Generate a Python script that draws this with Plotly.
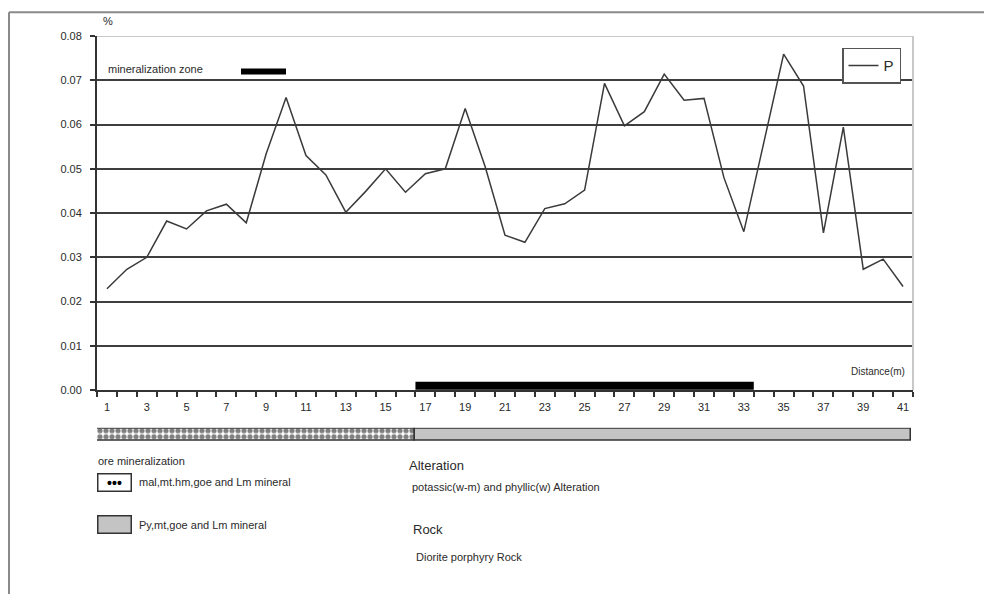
import plotly.graph_objects as go

# Phosphorus assay along the trench profile
distance_m = list(range(1, 42))
p_percent = [
    0.0229, 0.0273, 0.0300, 0.0382, 0.0364, 0.0405, 0.0420, 0.0378, 0.0534, 0.0661,
    0.0530, 0.0486, 0.0402, 0.0449, 0.0500, 0.0447, 0.0489, 0.0500, 0.0636, 0.0505,
    0.0350, 0.0334, 0.0410, 0.0421, 0.0452, 0.0693, 0.0597, 0.0629, 0.0714, 0.0655,
    0.0659, 0.0480, 0.0358, 0.0557, 0.0759, 0.0687, 0.0355, 0.0594, 0.0273, 0.0296,
    0.0234,
]
x_tick_labels = [str(d) for d in range(1, 42, 2)]
y_ticks = [0.00, 0.01, 0.02, 0.03, 0.04, 0.05, 0.06, 0.07, 0.08]

# mineralization zone (first and last sample inside it)
zone_from, zone_to = 17, 33
zone_level = 0.001

# ore-mineralization strip below the axis: sample ranges per unit
ore_units = ["mal,mt.hm,goe and Lm mineral", "Py,mt,goe and Lm mineral"]
ore_from = [1, 17]
ore_to = [16, 41]

W, H = 984, 596
L, R, T, B = 97, 71, 36, 6
PW, PH = W - L - R, H - T - B


def px(x):
    return (x - L) / PW


def py(y):
    return (H - B - y) / PH


FONT = "Liberation Sans, Arial, sans-serif"
INK = "#2a2a2a"

fig = go.Figure()

fig.add_trace(go.Scatter(
    x=distance_m, y=p_percent, mode="lines", name="P",
    line=dict(color="#3a3a3a", width=1.5),
))

fig.add_trace(go.Scatter(
    x=[zone_from - 0.5, zone_to + 0.5], y=[zone_level, zone_level], mode="lines",
    line=dict(color="black", width=8), showlegend=False, hoverinfo="skip",
))

# ore strip as horizontal bars on their own axes
fig.add_trace(go.Bar(
    y=["ore"], x=[ore_to[0] - ore_from[0] + 1], base=[ore_from[0] - 0.5],
    orientation="h", xaxis="x2", yaxis="y2", showlegend=False, name=ore_units[0],
    marker=dict(color="white",
                pattern=dict(shape=".", fgcolor="black", bgcolor="white", size=6, solidity=0.6),
                line=dict(color="#333", width=1.5)),
))
fig.add_trace(go.Bar(
    y=["ore"], x=[ore_to[1] - ore_from[1] + 1], base=[ore_from[1] - 0.5],
    orientation="h", xaxis="x2", yaxis="y2", showlegend=False, name=ore_units[1],
    marker=dict(color="#c4c4c4", line=dict(color="#333", width=1.5)),
))

fig.update_layout(
    width=W, height=H,
    margin=dict(l=L, r=R, t=T, b=B),
    paper_bgcolor="white", plot_bgcolor="white",
    font=dict(family=FONT, color=INK, size=11),
    barmode="overlay", bargap=0,
    xaxis=dict(
        type="linear", range=[0.5, 41.5],
        tickmode="array", tickvals=list(range(1, 42, 2)), ticktext=x_tick_labels,
        ticks="outside", ticklen=6, tickcolor="rgba(0,0,0,0)",
        showgrid=False, zeroline=False,
        showline=True, linecolor="#333", linewidth=2,
        minor=dict(tickmode="array", tickvals=[i + 0.5 for i in range(0, 42)],
                   ticks="outside", ticklen=5, tickwidth=2, tickcolor="#333", showgrid=False),
        tickfont=dict(size=11, color=INK),
        anchor="y", fixedrange=True,
    ),
    yaxis=dict(
        domain=[py(394), 1], range=[0, 0.08],
        tickmode="array", tickvals=y_ticks, tickformat=".2f",
        ticks="outside", ticklen=5, tickwidth=2, tickcolor="#333",
        ticklabelstandoff=6,
        showgrid=True, gridcolor="#3e3e3e", gridwidth=2,
        zeroline=False, showline=True, linecolor="#333", linewidth=2,
        tickfont=dict(size=11, color=INK),
    ),
    xaxis2=dict(domain=[0, 1], range=[0.5, 41.6], anchor="y2", visible=False),
    yaxis2=dict(domain=[py(446), py(432)], range=[-0.6, 0.6], visible=False),
    legend=dict(
        x=px(842), y=py(48), xanchor="left", yanchor="top",
        bordercolor="#555", borderwidth=1.5, bgcolor="white",
        font=dict(size=15, color=INK), itemwidth=30,
    ),
)

shapes = [
    # plot frame (top and right) in light gray over the top gridline
    dict(type="line", xref="paper", yref="y", x0=0, x1=1, y0=0.08, y1=0.08,
         line=dict(color="#c8c8c8", width=2)),
    dict(type="line", xref="paper", yref="y", x0=1, x1=1, y0=0, y1=0.08,
         line=dict(color="#c8c8c8", width=2)),
    # outer frame
    dict(type="line", xref="paper", yref="paper", x0=px(9), x1=px(990), y0=py(12), y1=py(12),
         line=dict(color="#8a8a8a", width=2)),
    dict(type="line", xref="paper", yref="paper", x0=px(9), x1=px(9), y0=py(12), y1=py(600),
         line=dict(color="#8a8a8a", width=2)),
    # key for the mineralization zone
    dict(type="line", xref="paper", yref="paper", x0=px(241), x1=px(286), y0=py(72), y1=py(72),
         line=dict(color="black", width=6)),
]
fig.update_layout(shapes=shapes)

ann = [
    dict(text="%", x=px(101), y=py(21), xanchor="left", font=dict(size=11)),
    dict(text="mineralization zone", x=px(106), y=py(69), xanchor="left", font=dict(size=11)),
    dict(text="Distance(m)", x=px(907), y=py(375), xanchor="right", font=dict(size=10)),
    dict(text="ore mineralization", x=px(96), y=py(466), xanchor="left", font=dict(size=11)),
    dict(text="<b>•••</b>", x=px(97), y=py(487), xanchor="left", font=dict(size=14, color="black"),
         bordercolor="#333", borderwidth=1.5, borderpad=1, width=30, height=14, bgcolor="white"),
    dict(text=ore_units[0], x=px(137), y=py(487), xanchor="left", font=dict(size=11)),
    dict(text=" ", x=px(97), y=py(530), xanchor="left", font=dict(size=9),
         bordercolor="#333", borderwidth=1.5, borderpad=1, width=30, height=14, bgcolor="#c4c4c4"),
    dict(text=ore_units[1], x=px(137), y=py(530), xanchor="left", font=dict(size=11)),
    dict(text="Alteration", x=px(407), y=py(470), xanchor="left", font=dict(size=13)),
    dict(text="potassic(w-m) and phyllic(w) Alteration", x=px(410), y=py(492), xanchor="left",
         font=dict(size=11)),
    dict(text="Rock", x=px(411), y=py(535), xanchor="left", font=dict(size=13)),
    dict(text="Diorite porphyry Rock", x=px(414), y=py(563), xanchor="left", font=dict(size=11)),
]
for a in ann:
    a.setdefault("xref", "paper")
    a.setdefault("yref", "paper")
    a.setdefault("showarrow", False)
    a.setdefault("yanchor", "middle")
fig.update_layout(annotations=ann)

fig.write_html("out.html")
